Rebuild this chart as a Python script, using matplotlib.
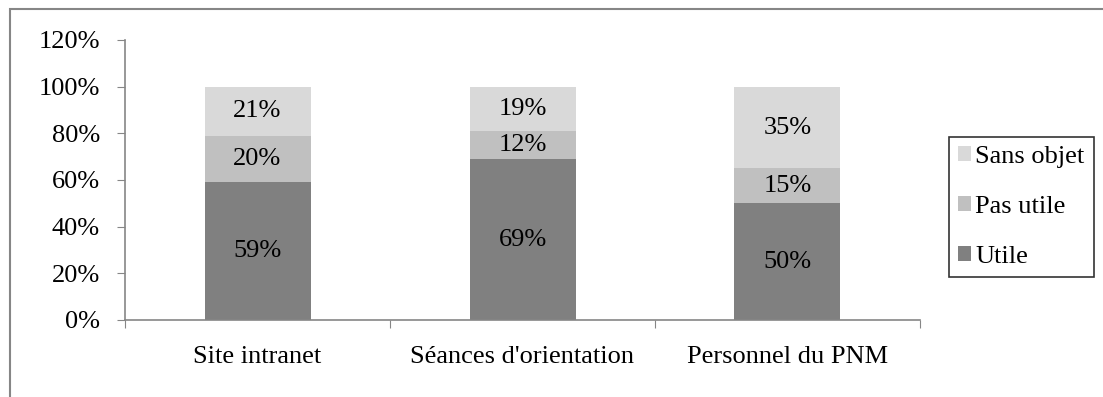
import matplotlib
matplotlib.use("Agg")
import matplotlib.pyplot as plt
from matplotlib.patches import Rectangle

categories = ["Site intranet", "Séances d'orientation", "Personnel du PNM"]
utile = [59, 69, 50]
pas_utile = [20, 12, 15]
sans_objet = [21, 19, 35]
series = [("Utile", utile, "#808080"),
          ("Pas utile", pas_utile, "#c0c0c0"),
          ("Sans objet", sans_objet, "#d9d9d9")]

plt.rcParams["font.family"] = ["Liberation Serif", "DejaVu Serif"]
FS = 19

W, H = 1103, 397
fig = plt.figure(figsize=(W / 100, H / 100), dpi=100)
# cadre extérieur (coupé à droite et en bas)
fig.patches.append(Rectangle((10 / W, -0.1), 1.2, 1.1 - 9 / H, transform=fig.transFigure,
                             fill=False, edgecolor="#868686", linewidth=1.5))
ax = fig.add_axes([125 / W, 1 - 320 / H, (920 - 125) / W, (320 - 40) / H])

x = range(len(categories))
bottom = [0] * len(categories)
handles = []
for name, vals, col in series:
    b = ax.bar(x, vals, 0.4, bottom=bottom, color=col, label=name)
    handles.append(b)
    for xi, v, b0 in zip(x, vals, bottom):
        ax.text(xi, b0 + v / 2, f"{v}%", ha="center", va="center", fontsize=FS)
    bottom = [b0 + v for b0, v in zip(bottom, vals)]

ax.set_xlim(-0.5, 2.5)
ax.set_ylim(0, 120)
ax.set_yticks(range(0, 121, 20))
ax.set_yticklabels([f"{t}%" for t in range(0, 121, 20)], fontsize=FS)
ax.set_xticks([-0.5, 0.5, 1.5, 2.5], minor=False)
ax.set_xticklabels([])
ax.set_xticks(list(x), minor=True)
ax.set_xticklabels(categories, minor=True, fontsize=FS)
ax.tick_params(axis="x", which="minor", length=0, pad=19)
ax.tick_params(axis="x", which="major", length=6, direction="out", color="#868686")
ax.tick_params(axis="y", length=6, color="#868686", pad=12)
for s in ["top", "right"]:
    ax.spines[s].set_visible(False)
for s in ["left", "bottom"]:
    ax.spines[s].set_color("#868686")
    ax.spines[s].set_linewidth(1.2)

leg = fig.legend(handles[::-1], [s[0] for s in series][::-1], loc="upper left",
                 bbox_to_anchor=(949 / W, 1 - 137 / H), fontsize=FS, frameon=True,
                 fancybox=False, edgecolor="black", handlelength=0.5, handleheight=0.5,
                 handletextpad=0.15, labelspacing=1.05, borderpad=0.35, borderaxespad=0)
leg.get_frame().set_linewidth(1.2)

fig.savefig("out.png", dpi=100)
